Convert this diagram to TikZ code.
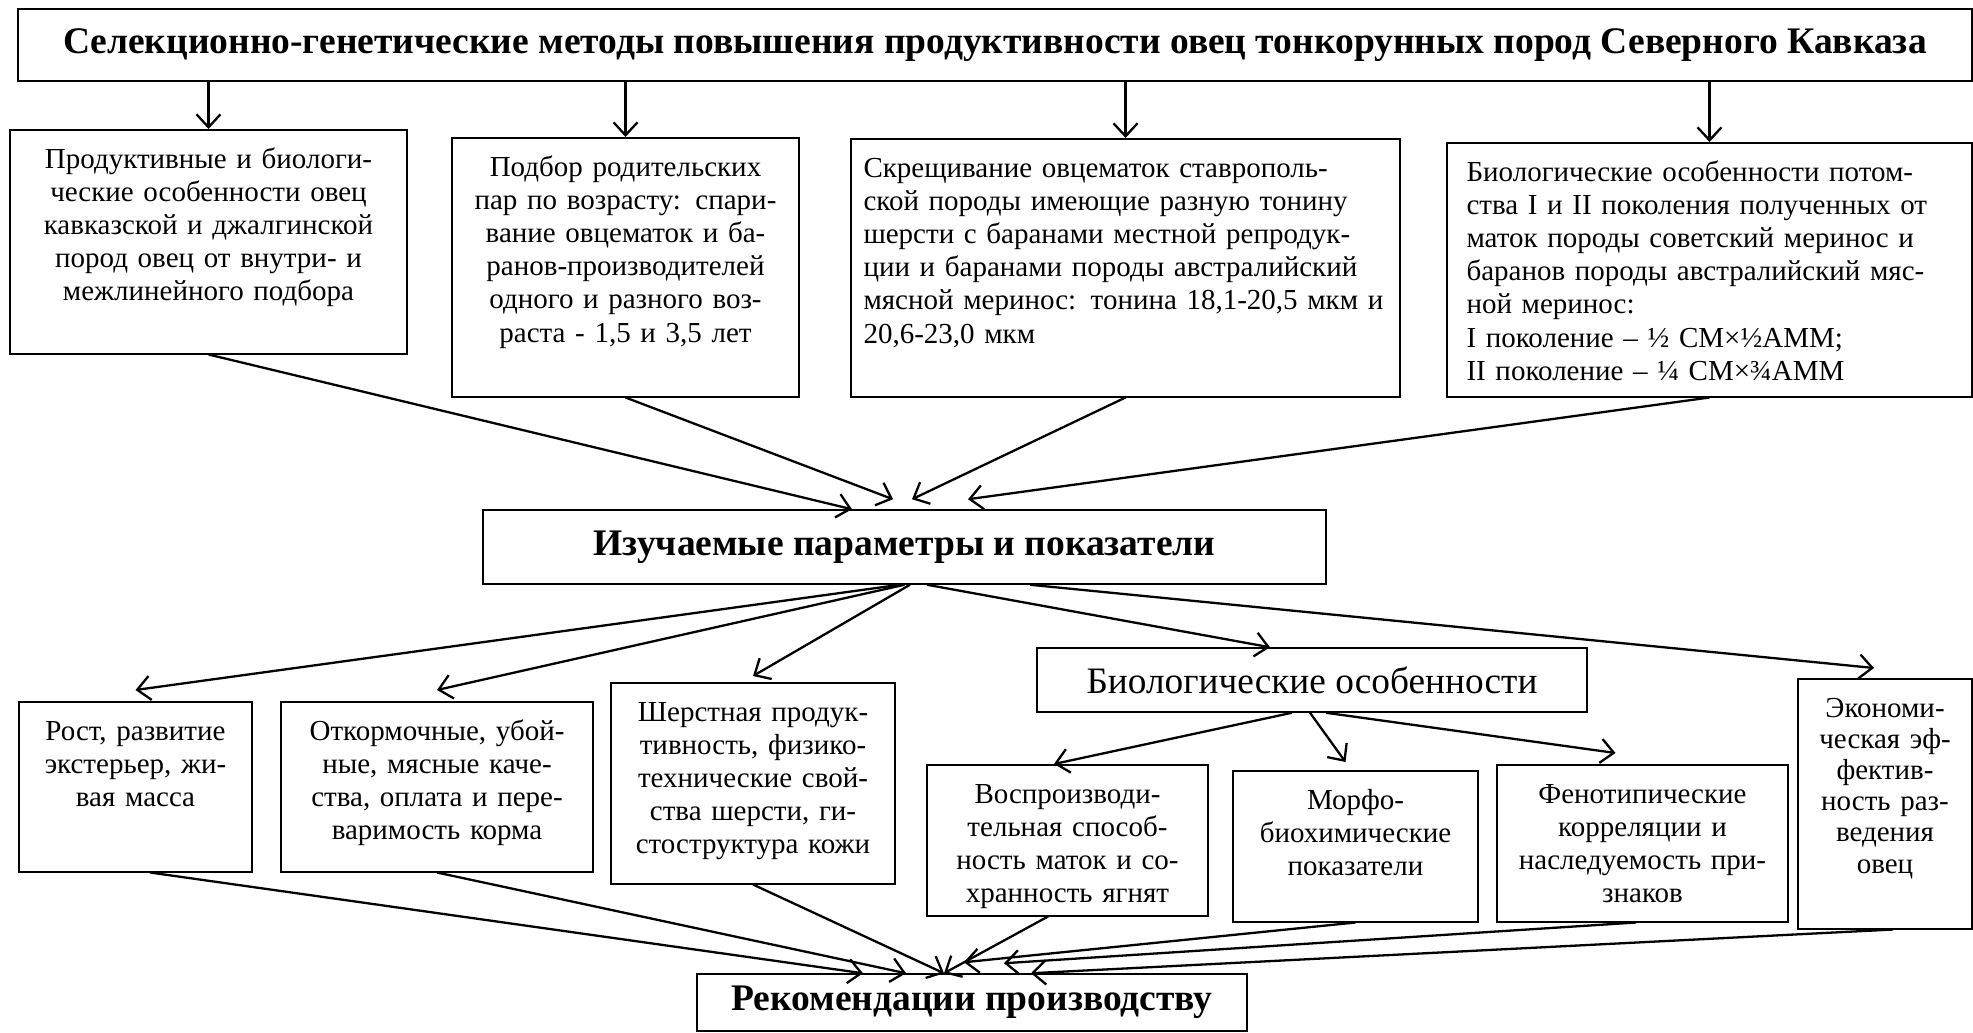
\documentclass[tikz,border=0pt]{standalone}
\usepackage{fontspec}
\setmainfont{Liberation Serif}
\usepackage{tikz}
\usetikzlibrary{arrows.meta,positioning}
\newcommand{\jline}[1]{\makebox[\hsize][s]{#1}}

\begin{document}
\begin{tikzpicture}[x=1pt,y=-1pt]
        %styles
        \tikzstyle{headbox}=[draw, line width=1.5pt, inner sep=0pt, font=\bfseries\fontsize{37.5}{42}\selectfont]
        \tikzstyle{subbox}=[draw, line width=1.5pt, inner sep=0pt, font=\fontsize{37.3}{42}\selectfont]
        \tikzstyle{cellbox}=[draw, line width=1.5pt, anchor=north, inner xsep=4pt, inner ysep=15pt, text height=23.4pt, align=center, font=\fontsize{29}{33.2}\selectfont]
        \tikzstyle{cellboxj}=[cellbox, align=left]
        \tikzstyle{commu}=[-{Straight Barb[length=13pt,width=24pt]}, line width=2.3pt]

        \useasboundingbox (0,0) rectangle (1973,1033);

        %nodes
        \node[headbox, minimum width=1954pt, minimum height=72pt] (top) at (995,45) {Селекционно-генетические методы повышения продуктивности овец тонкорунных пород Северного Кавказа};

        \node[cellbox, text width=389pt, text depth=170.6pt] (m1) at (208.5,129) {Продуктивные и биологи-\\ческие особенности овец\\кавказской и джалгинской\\пород овец от внутри- и\\межлинейного подбора};
        \node[cellbox, text width=339pt, text depth=205.6pt] (m2) at (625.5,137) {Подбор родительских\\пар по возрасту: спари-\\вание овцематок и ба-\\ранов-производителей\\одного и разного воз-\\раста - 1,5 и 3,5 лет};
        \node[cellboxj, inner xsep=12.5pt, text width=524pt, text depth=204.6pt] (m3) at (1125.5,138) {\jline{Скрещивание овцематок ставрополь-}\\\jline{ской породы имеющие разную тонину}\\\jline{шерсти с баранами местной репродук-}\\\jline{ции и баранами породы австралийский}\\\jline{мясной меринос: тонина 18,1-20,5 мкм и}\\20,6-23,0 мкм};
        \node[cellboxj, inner xsep=19.5pt, text width=486pt, text depth=200.6pt] (m4) at (1709.5,142) {\jline{Биологические особенности потом-}\\\jline{ства I и II поколения полученных от}\\\jline{маток породы советский меринос и}\\\jline{баранов породы австралийский мяс-}\\ной меринос:\\I поколение – ½ СМ×½АММ;\\II поколение – ¼ СМ×¾АММ};

        \node[headbox, minimum width=843pt, minimum height=74pt] (par) at (904.5,547) {Изучаемые параметры и показатели};

        \node[cellbox, text width=225pt, text depth=116.6pt] (g1) at (135.5,701) {Рост, развитие\\экстерьер, жи-\\вая масса};
        \node[cellbox, text width=304pt, text depth=116.6pt] (g2) at (437,701) {Откормочные, убой-\\ные, мясные каче-\\ства, оплата и пере-\\варимость корма};
        \node[cellbox, text width=276pt, text depth=147.6pt] (g3) at (753,682) {Шерстная продук-\\тивность, физико-\\технические свой-\\ства шерсти, ги-\\стоструктура кожи};
        \node[subbox, minimum width=550pt, minimum height=64pt] (bio) at (1312,680) {Биологические особенности};
        \node[cellbox, text width=166pt, text depth=196.6pt, font=\fontsize{29}{31.2}\selectfont] (eco) at (1885,678) {Экономи-\\ческая эф-\\фектив-\\ность раз-\\ведения\\овец};

        \node[cellbox, text width=273pt, text depth=97.6pt] (b1) at (1067.5,764) {Воспроизводи-\\тельная способ-\\ность маток и со-\\хранность ягнят};
        \node[cellbox, text width=237pt, text depth=97.6pt] (b2) at (1355.5,770) {Морфо-\\биохимические\\показатели};
        \node[cellbox, text width=283pt, text depth=103.6pt] (b3) at (1642.5,764) {Фенотипические\\корреляции и\\наследуемость при-\\знаков};

        \node[headbox, minimum width=550pt, minimum height=57pt] (rec) at (972,1002.5) {Рекомендации производству};

        %arrows
        \draw[commu] (m1.north |- top.south) -- (m1.north);
        \draw[commu] (m2.north |- top.south) -- (m2.north);
        \draw[commu] (m3.north |- top.south) -- (m3.north);
        \draw[commu] (m4.north |- top.south) -- (m4.north);

        \draw[commu] (m1.south) -- ([xshift=-52.5pt]par.north);
        \draw[commu] (m2.south) -- ([xshift=-11.5pt,yshift=10pt]par.north);
        \draw[commu] (m3.south) -- ([xshift=7.5pt,yshift=10pt]par.north);
        \draw[commu] (m4.south) -- ([xshift=63.5pt,yshift=10pt]par.north);

        \draw[commu] ([xshift=-4.5pt]par.south) -- ([yshift=11pt]g1.north);
        \draw[commu] (par.south) -- ([yshift=11pt]g2.north);
        \draw[commu] ([xshift=5.5pt]par.south) -- ([yshift=6pt]g3.north);
        \draw[commu] ([xshift=22.5pt]par.south) -- ([xshift=-42pt]bio.north);
        \draw[commu] ([xshift=125.5pt]par.south) -- ([xshift=-11pt,yshift=10pt]eco.north);

        \draw[commu] ([xshift=-20pt]bio.south) -- ([xshift=-13.5pt]b1.north);
        \draw[commu] ([xshift=-2pt]bio.south) -- ([xshift=-10pt,yshift=8pt]b2.north);
        \draw[commu] ([xshift=14pt]bio.south) -- ([xshift=-27pt,yshift=11pt]b3.north);

        \draw[commu] ([xshift=14.5pt]g1.south) -- ([xshift=-109pt]rec.north);
        \draw[commu] (g2.south) -- ([xshift=-66pt]rec.north);
        \draw[commu] (g3.south) -- ([xshift=-28pt]rec.north);
        \draw[commu] ([xshift=-19.5pt]b1.south) -- ([xshift=-28pt]rec.north);
        \draw[commu] (b2.south) -- ([xshift=-8pt,yshift=11pt]rec.north);
        \draw[commu] ([xshift=-6.5pt]b3.south) -- ([xshift=32pt,yshift=10pt]rec.north);
        \draw[commu] ([xshift=8pt]eco.south) -- ([xshift=59pt]rec.north);

\end{tikzpicture}
\end{document}
